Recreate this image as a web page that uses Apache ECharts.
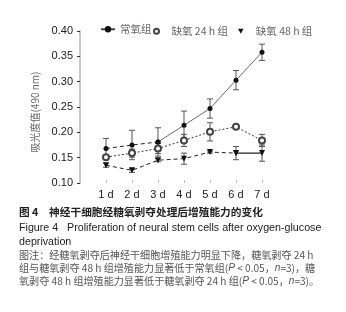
<!DOCTYPE html>
<html>
<head>
<meta charset="utf-8">
<script src="https://cdn.jsdelivr.net/npm/echarts@6/dist/echarts.min.js"></script>
<style>
  html, body { margin: 0; padding: 0; background: #fff; }
  #chart { width: 346px; height: 312px; }
</style>
</head>
<body>
<div id="chart"></div>
<script>
// days on the x axis
const days = ['1 d', '2 d', '3 d', '4 d', '5 d', '6 d', '7 d'];

// absorbance (490 nm), mean and error
const normalMean = [0.168, 0.175, 0.181, 0.214, 0.247, 0.303, 0.358];
const normalErr  = [0.020, 0.029, 0.028, 0.028, 0.019, 0.019, 0.016];
const h24Mean    = [0.151, 0.159, 0.168, 0.184, 0.201, 0.211, 0.184];
const h24Err     = [0.005, 0.008, 0.010, 0.012, 0.018, 0.004, 0.012];
const h48Mean    = [0.135, 0.125, 0.145, 0.148, 0.161, 0.159, 0.159];
const h48Err     = [0.004, 0.004, 0.003, 0.011, 0.002, 0.013, 0.016];

const yTicks = [0.10, 0.15, 0.20, 0.25, 0.30, 0.35, 0.40];

const names = ['常氧组', '缺氧 24 h 组', '缺氧 48 h 组'];

const cjk = '"Noto Sans CJK SC", sans-serif';
const latin = '"Liberation Sans", Arial, sans-serif';

function pts(arr, from, to) {
    let out = [];
    for (let i = from; i <= to; i++) out.push([i + 1, arr[i]]);
    return out;
}
function errPts(mean, err) {
    return mean.map((v, i) => [i + 1, v, err[i]]);
}

function errorBar(params, api) {
    let x = api.value(0), y = api.value(1), e = api.value(2);
    let top = api.coord([x, y + e]);
    let bot = api.coord([x, y - e]);
    let w = 3;
    let st = { stroke: '#555', lineWidth: 1 };
    return {
        type: 'group',
        children: [
            { type: 'line', shape: { x1: top[0], y1: top[1], x2: bot[0], y2: bot[1] }, style: st },
            { type: 'line', shape: { x1: top[0] - w, y1: top[1], x2: top[0] + w, y2: top[1] }, style: st },
            { type: 'line', shape: { x1: bot[0] - w, y1: bot[1], x2: bot[0] + w, y2: bot[1] }, style: st }
        ]
    };
}

const myChart = echarts.init(document.getElementById('chart'));

const legendText = { fontSize: 10.5, color: '#666', fontFamily: cjk };

let option = {
    animation: false,
    grid: { left: 80, right: 84, top: 31, bottom: 129, outerBoundsMode: 'none' },
    legend: [
        { data: [names[0]], left: 95, top: 19, itemWidth: 14, itemHeight: 8, textStyle: legendText },
        { data: [{ name: names[1], icon: 'emptyCircle' }], left: 148, top: 21, itemWidth: 20, itemHeight: 5, textStyle: legendText },
        { data: [{ name: names[2], icon: 'path://M0,0L10,0L5,9Z' }], left: 233, top: 21, itemWidth: 20, itemHeight: 5, textStyle: legendText }
    ],
    xAxis: {
        type: 'value',
        position: 'bottom',
        min: 0, max: 7, interval: 1,
        axisLine: { show: false, onZero: false },
        axisTick: { show: true, inside: true, length: 3, lineStyle: { color: '#bbb' } },
        splitLine: { show: false },
        axisLabel: {
            margin: 6,
            fontSize: 11, color: '#222', fontFamily: latin,
            formatter: v => (v >= 1 ? days[v - 1] : '')
        }
    },
    yAxis: {
        type: 'value',
        min: yTicks[0], max: yTicks[yTicks.length - 1], interval: 0.05,
        name: '吸光度值(490 nm)',
        nameLocation: 'middle',
        nameGap: 30,
        nameTextStyle: { fontSize: 10, color: '#666', fontFamily: cjk, padding: [0, 10, 0, 0] },
        axisLine: { show: true, onZero: false, lineStyle: { color: '#c8c8c8', width: 2 } },
        axisTick: { show: true, length: 3, lineStyle: { color: '#333' } },
        splitLine: { show: false },
        axisLabel: {
            margin: 7,
            fontSize: 11, color: '#222', fontFamily: latin,
            formatter: v => v.toFixed(2)
        }
    },
    series: [
        // error bars
        { type: 'custom', renderItem: errorBar, data: errPts(normalMean, normalErr), silent: true, z: 1 },
        { type: 'custom', renderItem: errorBar, data: errPts(h24Mean, h24Err), silent: true, z: 1 },
        { type: 'custom', renderItem: errorBar, data: errPts(h48Mean, h48Err), silent: true, z: 1 },
        // 常氧
        {
            name: names[0], type: 'line', data: pts(normalMean, 2, 6),
            symbol: 'circle', symbolSize: 5,
            itemStyle: { color: '#111' },
            lineStyle: { color: '#444', width: 0.8 }, z: 3
        },
        {
            name: names[0], type: 'line', data: pts(normalMean, 0, 2),
            symbol: 'circle', symbolSize: 5,
            itemStyle: { color: '#111' },
            lineStyle: { color: '#222', width: 1, type: [4, 3] }, z: 3
        },
        // 缺氧 24 h
        {
            name: names[1], type: 'line', data: pts(h24Mean, 0, 6),
            symbol: 'emptyCircle', symbolSize: 6,
            itemStyle: { color: '#444', borderWidth: 1 },
            lineStyle: { color: '#333', width: 1, type: [2, 2] }, z: 3
        },
        // 缺氧 48 h
        {
            name: names[2], type: 'line', data: pts(h48Mean, 0, 5),
            symbol: 'triangle', symbolRotate: 180, symbolSize: 6,
            itemStyle: { color: '#111' },
            lineStyle: { color: '#222', width: 1, type: [4, 3] }, z: 3
        },
        {
            name: names[2], type: 'line', data: pts(h48Mean, 5, 6),
            symbol: 'triangle', symbolRotate: 180, symbolSize: 6,
            itemStyle: { color: '#111' },
            lineStyle: { color: '#222', width: 1.2 }, z: 3
        }
    ],
    graphic: [
        {
            type: 'text', left: 19, top: 207,
            style: { text: '图 4　神经干细胞经糖氧剥夺处理后增殖能力的变化', font: 'bold 10.7px ' + cjk, fill: '#222' }
        },
        {
            type: 'text', left: 19, top: 223,
            style: { text: 'Figure 4   Proliferation of neural stem cells after oxygen-glucose', font: '10.7px ' + latin, fill: '#222' }
        },
        {
            type: 'text', left: 19, top: 237,
            style: { text: 'deprivation', font: '10.7px ' + latin, fill: '#222' }
        },
        {
            type: 'text', left: 19, top: 250,
            style: { text: '图注：经糖氧剥夺后神经干细胞增殖能力明显下降，糖氧剥夺 24 h', font: '10.1px ' + cjk, fill: '#555' }
        },
        {
            type: 'text', left: 19, top: 263,
            style: {
                text: '组与糖氧剥夺 48 h 组增殖能力显著低于常氧组({i|P} < 0.05，{i|n}=3)，糖',
                font: '10.1px ' + cjk, fill: '#555',
                rich: { i: { fontStyle: 'italic', fontSize: 10.1, fontFamily: latin, fill: '#555' } }
            }
        },
        {
            type: 'text', left: 19, top: 276,
            style: {
                text: '氧剥夺 48 h 组增殖能力显著低于糖氧剥夺 24 h 组({i|P} < 0.05，{i|n}=3)。',
                font: '10.1px ' + cjk, fill: '#555',
                rich: { i: { fontStyle: 'italic', fontSize: 10.1, fontFamily: latin, fill: '#555' } }
            }
        }
    ]
};

myChart.setOption(option);
</script>
</body>
</html>
